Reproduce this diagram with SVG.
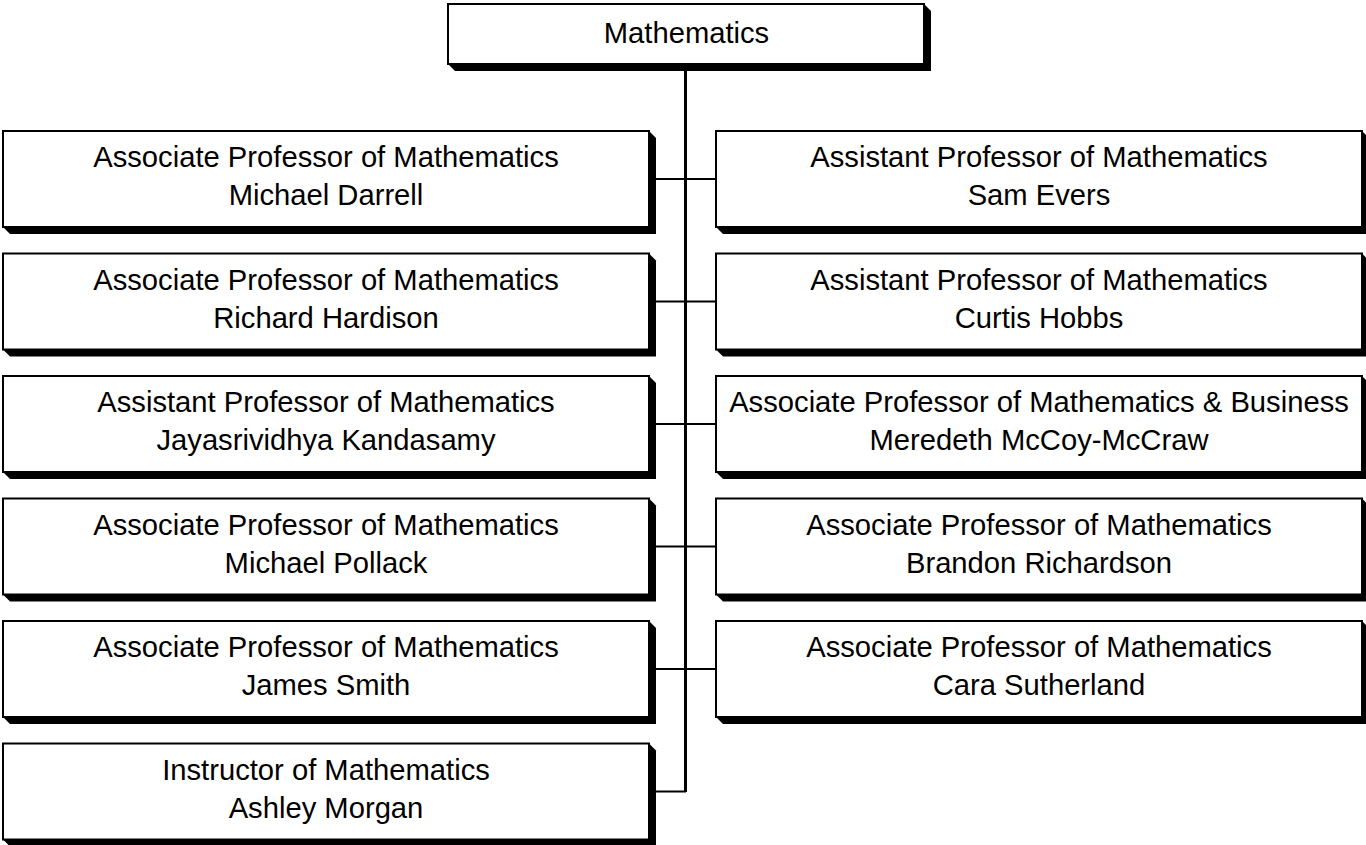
<svg xmlns="http://www.w3.org/2000/svg" width="1366" height="845" viewBox="0 0 1366 845">
<style>
.box{fill:#fff;stroke:#000;stroke-width:2}
.sh{fill:#000}
.t{font-family:"Liberation Sans",Arial,sans-serif;font-size:29.2px;fill:#000;text-anchor:middle}
.c{stroke:#000;fill:none}
</style>
<rect width="1366" height="845" fill="#fff"/>
<g id="connectors">
<line class="c" x1="685.5" y1="64" x2="685.5" y2="792" stroke-width="3"/>
<path class="c" stroke-width="2" d="M649 179H716M649 301.5H716M649 424H716M649 546.5H716M649 669H716M649 791.5H686"/>
</g>
<g id="n0">
<polygon class="sh" points="924,4 931,11 931,71 455,71 448,64"/>
<rect class="box" x="448" y="4" width="476" height="60"/>
<text class="t" x="686.5" y="43">Mathematics</text>
</g>
<g id="n1">
<polygon class="sh" points="649,131 656,138 656,234 10,234 3,227"/>
<rect class="box" x="3" y="131" width="646" height="96"/>
<text class="t" x="326" y="167">Associate Professor of Mathematics</text>
<text class="t" x="326" y="205">Michael Darrell</text>
</g>
<g id="n2">
<polygon class="sh" points="649,253.5 656,260.5 656,356.5 10,356.5 3,349.5"/>
<rect class="box" x="3" y="253.5" width="646" height="96"/>
<text class="t" x="326" y="289.5">Associate Professor of Mathematics</text>
<text class="t" x="326" y="327.5">Richard Hardison</text>
</g>
<g id="n3">
<polygon class="sh" points="649,376 656,383 656,479 10,479 3,472"/>
<rect class="box" x="3" y="376" width="646" height="96"/>
<text class="t" x="326" y="412">Assistant Professor of Mathematics</text>
<text class="t" x="326" y="450">Jayasrividhya Kandasamy</text>
</g>
<g id="n4">
<polygon class="sh" points="649,498.5 656,505.5 656,601.5 10,601.5 3,594.5"/>
<rect class="box" x="3" y="498.5" width="646" height="96"/>
<text class="t" x="326" y="534.5">Associate Professor of Mathematics</text>
<text class="t" x="326" y="572.5">Michael Pollack</text>
</g>
<g id="n5">
<polygon class="sh" points="649,621 656,628 656,724 10,724 3,717"/>
<rect class="box" x="3" y="621" width="646" height="96"/>
<text class="t" x="326" y="657">Associate Professor of Mathematics</text>
<text class="t" x="326" y="695">James Smith</text>
</g>
<g id="n6">
<polygon class="sh" points="649,743.5 656,750.5 656,846.5 10,846.5 3,839.5"/>
<rect class="box" x="3" y="743.5" width="646" height="96"/>
<text class="t" x="326" y="779.5">Instructor of Mathematics</text>
<text class="t" x="326" y="817.5">Ashley Morgan</text>
</g>
<g id="n7">
<polygon class="sh" points="1362,131 1369,138 1369,234 723,234 716,227"/>
<rect class="box" x="716" y="131" width="646" height="96"/>
<text class="t" x="1039" y="167">Assistant Professor of Mathematics</text>
<text class="t" x="1039" y="205">Sam Evers</text>
</g>
<g id="n8">
<polygon class="sh" points="1362,253.5 1369,260.5 1369,356.5 723,356.5 716,349.5"/>
<rect class="box" x="716" y="253.5" width="646" height="96"/>
<text class="t" x="1039" y="289.5">Assistant Professor of Mathematics</text>
<text class="t" x="1039" y="327.5">Curtis Hobbs</text>
</g>
<g id="n9">
<polygon class="sh" points="1362,376 1369,383 1369,479 723,479 716,472"/>
<rect class="box" x="716" y="376" width="646" height="96"/>
<text class="t" x="1039" y="412">Associate Professor of Mathematics &amp; Business</text>
<text class="t" x="1039" y="450">Meredeth McCoy-McCraw</text>
</g>
<g id="n10">
<polygon class="sh" points="1362,498.5 1369,505.5 1369,601.5 723,601.5 716,594.5"/>
<rect class="box" x="716" y="498.5" width="646" height="96"/>
<text class="t" x="1039" y="534.5">Associate Professor of Mathematics</text>
<text class="t" x="1039" y="572.5">Brandon Richardson</text>
</g>
<g id="n11">
<polygon class="sh" points="1362,621 1369,628 1369,724 723,724 716,717"/>
<rect class="box" x="716" y="621" width="646" height="96"/>
<text class="t" x="1039" y="657">Associate Professor of Mathematics</text>
<text class="t" x="1039" y="695">Cara Sutherland</text>
</g>
</svg>
